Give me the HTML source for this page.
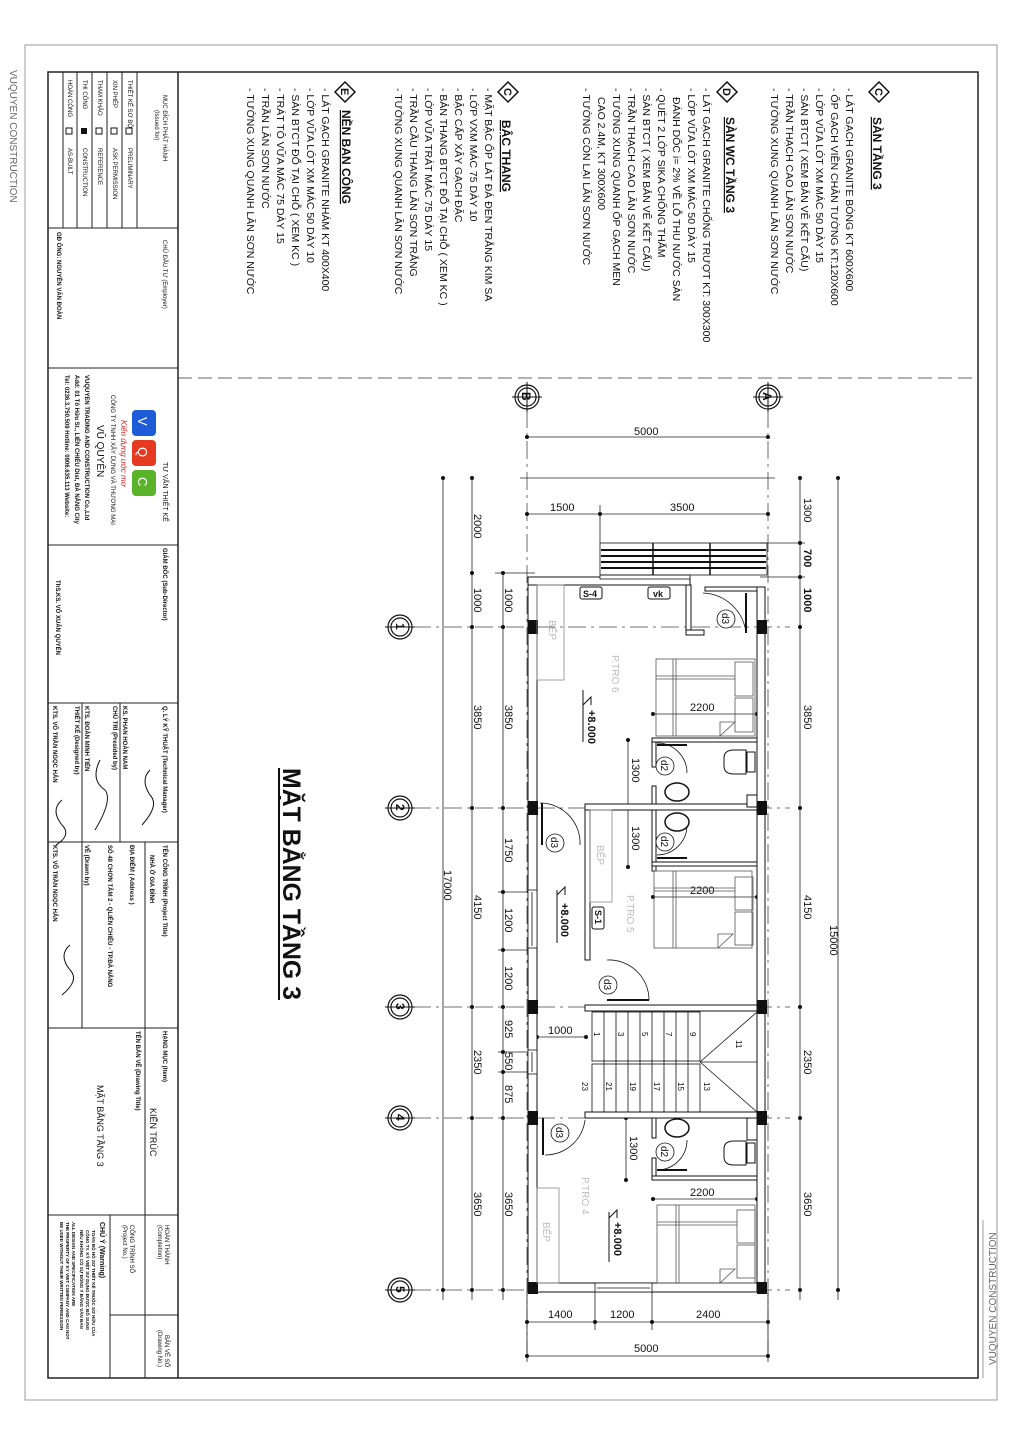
<!DOCTYPE html>
<html><head><meta charset="utf-8"><style>
html,body{margin:0;padding:0;background:#fff}
svg{display:block}
text{font-family:"Liberation Sans","DejaVu Sans",sans-serif;fill:#111}
.n{font-size:10.5px}
.h{font-size:12px;font-weight:bold;text-decoration:underline}
.d{font-size:11px}
.g{fill:#bbb;font-size:10px}
.t{font-size:6px}
.tb{font-size:6px;font-weight:bold}
</style></head><body>
<svg width="1023" height="1448" viewBox="0 0 1023 1448" xmlns="http://www.w3.org/2000/svg">
<!-- page frames -->
<rect x="25" y="45" width="972" height="1355" fill="none" stroke="#999" stroke-width="1"/>
<rect x="48" y="72" width="930" height="1306" fill="none" stroke="#222" stroke-width="1.5"/>
<text transform="translate(10,70) rotate(90)" class="g" style="fill:#666;font-size:10px">VUQUYEN CONSTRUCTION</text>
<text transform="translate(996,1365) rotate(-90)" class="g" style="fill:#666;font-size:10px">VUQUYEN CONSTRUCTION</text>
<line x1="983" y1="1220" x2="983" y2="1378" stroke="#999"/>

<!-- title block -->
<g stroke="#222" stroke-width="1" fill="none">
<line x1="178" y1="72" x2="178" y2="1378" stroke-width="1.5"/>
<line x1="48" y1="228" x2="178" y2="228"/>
<line x1="48" y1="368" x2="178" y2="368"/>
<line x1="48" y1="545" x2="178" y2="545"/>
<line x1="48" y1="703" x2="178" y2="703"/>
<line x1="48" y1="842" x2="178" y2="842"/>
<line x1="48" y1="1028" x2="178" y2="1028"/>
<line x1="48" y1="1215" x2="178" y2="1215"/>
<line x1="137" y1="72" x2="137" y2="228"/>
<line x1="122" y1="72" x2="122" y2="228"/>
<line x1="107" y1="72" x2="107" y2="228"/>
<line x1="92" y1="72" x2="92" y2="228"/>
<line x1="77" y1="72" x2="77" y2="228"/>
<line x1="63" y1="72" x2="63" y2="228"/>
<line x1="120" y1="703" x2="120" y2="842"/>
<line x1="82" y1="703" x2="82" y2="1028"/>
<line x1="145" y1="842" x2="145" y2="1028"/>
<line x1="145" y1="1028" x2="145" y2="1215"/>
<line x1="145" y1="1215" x2="145" y2="1378"/>
<line x1="110" y1="1215" x2="110" y2="1378"/>
<line x1="110" y1="1315" x2="178" y2="1315"/>
</g>
<g>
<text transform="translate(163,95) rotate(90)" class="t">MỤC ĐÍCH PHÁT HÀNH</text>
<text transform="translate(155,110) rotate(90)" class="t">(Issued for)</text>
<text transform="translate(128,80) rotate(90)" class="t">THIẾT KẾ SƠ BỘ</text>
<text transform="translate(113,80) rotate(90)" class="t">XIN PHÉP</text>
<text transform="translate(98,80) rotate(90)" class="t">THAM KHẢO</text>
<text transform="translate(83,80) rotate(90)" class="t">THI CÔNG</text>
<text transform="translate(68,80) rotate(90)" class="t">HOÀN CÔNG</text>
<rect x="126" y="128" width="6" height="6" fill="none" stroke="#111"/>
<rect x="111" y="128" width="6" height="6" fill="none" stroke="#111"/>
<rect x="96" y="128" width="6" height="6" fill="none" stroke="#111"/>
<rect x="81" y="128" width="6" height="6" fill="#111"/>
<rect x="66" y="128" width="6" height="6" fill="none" stroke="#111"/>
<text transform="translate(128,148) rotate(90)" class="t">PRELIMINARY</text>
<text transform="translate(113,148) rotate(90)" class="t">ASK PERMISSION</text>
<text transform="translate(98,148) rotate(90)" class="t">REFERENCE</text>
<text transform="translate(83,148) rotate(90)" class="t">CONSTRUCTION</text>
<text transform="translate(68,148) rotate(90)" class="t">AS-BUILT</text>
<text transform="translate(163,240) rotate(90)" class="t">CHỦ ĐẦU TƯ (Employer)</text>
<text transform="translate(57,232) rotate(90)" class="tb">GĐ ÔNG: NGUYỄN VĂN ĐOÀN</text>
<text transform="translate(163,462) rotate(90)" class="t" style="font-size:7px">TƯ VẤN THIẾT KẾ</text>
<rect x="132" y="410" width="24" height="26" rx="4" fill="#1e5bd8"/>
<rect x="132" y="440" width="24" height="26" rx="4" fill="#e53a1f"/>
<rect x="132" y="470" width="24" height="26" rx="4" fill="#5bb32a"/>
<text transform="translate(138,417) rotate(90)" style="font-size:13px;fill:#fff">V</text>
<text transform="translate(138,447) rotate(90)" style="font-size:13px;fill:#fff">Q</text>
<text transform="translate(138,477) rotate(90)" style="font-size:13px;fill:#fff">C</text>
<text transform="translate(121,420) rotate(90)" style="font-size:8px;fill:#d22;font-style:italic">Kiến dựng ước mơ</text>
<text transform="translate(111,395) rotate(90)" class="t">CÔNG TY TNHH XÂY DỰNG VÀ THƯƠNG MẠI</text>
<text transform="translate(97,425) rotate(90)" style="font-size:10px">VŨ QUYÊN</text>
<text transform="translate(85,375) rotate(90)" class="tb">VUQUYEN TRADING AND CONSTRUCTION Co.,Ltd</text>
<text transform="translate(75,375) rotate(90)" class="tb">Add: 01 Tô Hữu St., LIÊN CHIỂU Dist, ĐÀ NẴNG City</text>
<text transform="translate(65,375) rotate(90)" class="tb">Tel: 0236.3.750.509 Hotline: 0906.635.113 Website:</text>
<text transform="translate(163,548) rotate(90)" class="tb">GIÁM ĐỐC (Sub-Director)</text>
<text transform="translate(56,580) rotate(90)" class="tb">ThS.KS. VÕ XUÂN QUYẾN</text>
<text transform="translate(163,706) rotate(90)" class="tb">Q. LÝ KỸ THUẬT (Technical Manager)</text>
<text transform="translate(123,706) rotate(90)" class="tb">KS. PHAN HOÀN NAM</text>
<text transform="translate(113,706) rotate(90)" class="tb">CHỦ TRÌ (Presided by)</text>
<text transform="translate(85,706) rotate(90)" class="tb">KTS. ĐOÀN MINH TIẾN</text>
<text transform="translate(75,706) rotate(90)" class="tb">THIẾT KẾ (Designed by)</text>
<text transform="translate(53,706) rotate(90)" class="tb">KTS. VÕ TRẦN NGỌC HÂN</text>
<path d="M150 770 q-10 10 0 25 q10 10 -8 30 M100 760 q-10 20 5 30 q8 10 -10 40 M62 800 q-12 10 0 25 q10 10 -6 20" fill="none" stroke="#111" stroke-width="1"/>
<text transform="translate(163,845) rotate(90)" class="tb">TÊN CÔNG TRÌNH (Project Title)</text>
<text transform="translate(150,855) rotate(90)" class="tb">NHÀ Ở GIA ĐÌNH</text>
<text transform="translate(130,845) rotate(90)" class="tb">ĐỊA ĐIỂM ( Address )</text>
<text transform="translate(108,845) rotate(90)" class="tb">SỐ 48 CHƠN TÂM 2 - QLIÊN CHIỂU - TP.ĐÀ NẴNG</text>
<text transform="translate(85,845) rotate(90)" class="tb">VẼ (Drawn by)</text>
<text transform="translate(53,845) rotate(90)" class="tb">KTS. VÕ TRẦN NGỌC HÂN</text>
<path d="M70 945 q-12 10 0 25 q10 10 -8 25" fill="none" stroke="#111"/>
<text transform="translate(163,1031) rotate(90)" class="tb">HẠNG MỤC (Item)</text>
<text transform="translate(150,1108) rotate(90)" style="font-size:9px">KIẾN TRÚC</text>
<text transform="translate(136,1031) rotate(90)" class="tb">TÊN BẢN VẼ (Drawing Title)</text>
<text transform="translate(97,1085) rotate(90)" style="font-size:9px">MẶT BẰNG TẦNG 3</text>
<text transform="translate(165,1225) rotate(90)" class="t">HOÀN THÀNH</text>
<text transform="translate(158,1225) rotate(90)" class="t">(Completion)</text>
<text transform="translate(130,1225) rotate(90)" class="t">CÔNG TRÌNH SỐ</text>
<text transform="translate(123,1225) rotate(90)" class="t">(Project No.)</text>
<text transform="translate(165,1335) rotate(90)" class="t">BẢN VẼ SỐ</text>
<text transform="translate(158,1330) rotate(90)" class="t">(Drawing No.)</text>
<text transform="translate(100,1222) rotate(90)" class="tb" style="font-size:7px">CHÚ Ý (Warning)</text>
<text transform="translate(92,1230) rotate(90)" class="tb" style="font-size:4.5px">TOÀN BỘ HỒ SƠ THIẾT KẾ THUỘC SỞ HỮU CỦA</text>
<text transform="translate(86,1230) rotate(90)" class="tb" style="font-size:4.5px">CÔNG TY. KỸ VIỆT SỬ DỤNG ĐƯỢC BỔ SUNG</text>
<text transform="translate(80,1230) rotate(90)" class="tb" style="font-size:4.5px">NẾU KHÔNG CÓ SỰ ĐỒNG Ý BẰNG VĂN BẢN</text>
<text transform="translate(72,1222) rotate(90)" class="tb" style="font-size:4.5px">ALL DESIGN AND SPECIFICATION ARE</text>
<text transform="translate(66,1222) rotate(90)" class="tb" style="font-size:4.5px">THE PROPERTY OF KY VIET COMPANY AND CAN NOT</text>
<text transform="translate(60,1222) rotate(90)" class="tb" style="font-size:4.5px">BE USED WITHOUT THEIR WRITTEN PERMISSION</text>
</g>

<!-- dashed separator -->
<line x1="178" y1="378" x2="978" y2="378" stroke="#333" stroke-dasharray="14 6" stroke-width="0.8"/>

<!-- notes -->
<g>
<path d="M879 82 l10 10 -10 10 -10 -10z" fill="#fff" stroke="#111" stroke-width="1.5"/>
<text transform="translate(875,88) rotate(90)" style="font-size:11px;font-weight:bold">C</text>
<text transform="translate(873,117) rotate(90)" class="h">SÀN TẦNG 3</text>
<text transform="translate(846,88) rotate(90)" class="n">- LÁT GẠCH GRANITE BÓNG KT 600X600</text>
<text transform="translate(831,88) rotate(90)" class="n">- ỐP GẠCH VIỀN CHÂN TƯỜNG KT:120X600</text>
<text transform="translate(816,88) rotate(90)" class="n">- LỚP VỮA LÓT XM MÁC 50 DÀY 15</text>
<text transform="translate(801,88) rotate(90)" class="n">- SÀN BTCT ( XEM BẢN VẼ KẾT CẤU)</text>
<text transform="translate(786,88) rotate(90)" class="n">- TRẦN THẠCH CAO LĂN SƠN NƯỚC</text>
<text transform="translate(771,88) rotate(90)" class="n">- TƯỜNG XUNG QUANH LĂN SƠN NƯỚC</text>

<path d="M727 82 l10 10 -10 10 -10 -10z" fill="#fff" stroke="#111" stroke-width="1.5"/>
<text transform="translate(723,88) rotate(90)" style="font-size:11px;font-weight:bold">D</text>
<text transform="translate(726,117) rotate(90)" class="h">SÀN WC TẦNG 3</text>
<text transform="translate(703,88) rotate(90)" class="n">- LÁT GẠCH GRANITE CHỐNG TRƯỢT KT: 300X300</text>
<text transform="translate(688,88) rotate(90)" class="n">- LỚP VỮA LÓT XM MÁC 50 DÀY 15</text>
<text transform="translate(673,97) rotate(90)" class="n">ĐÁNH DỐC i= 2% VỀ LỖ THU NƯỚC SÀN</text>
<text transform="translate(658,88) rotate(90)" class="n">- QUÉT 2 LỚP SIKA CHỐNG THẤM</text>
<text transform="translate(643,88) rotate(90)" class="n">- SÀN BTCT ( XEM BẢN VẼ KẾT CẤU)</text>
<text transform="translate(628,88) rotate(90)" class="n">- TRẦN THẠCH CAO LĂN SƠN NƯỚC</text>
<text transform="translate(613,88) rotate(90)" class="n">- TƯỜNG XUNG QUANH ỐP GẠCH MEN</text>
<text transform="translate(598,97) rotate(90)" class="n">CAO 2.4M, KT 300X600</text>
<text transform="translate(583,88) rotate(90)" class="n">- TƯỜNG CÒN LẠI LĂN SƠN NƯỚC</text>

<path d="M508 82 l10 10 -10 10 -10 -10z" fill="#fff" stroke="#111" stroke-width="1.5"/>
<text transform="translate(504,88) rotate(90)" style="font-size:11px;font-weight:bold">C</text>
<text transform="translate(502,120) rotate(90)" class="h">BẬC THANG</text>
<text transform="translate(485,88) rotate(90)" class="n">- MẶT BẬC ỐP LÁT ĐÁ ĐEN TRẮNG KIM SA</text>
<text transform="translate(470,88) rotate(90)" class="n">- LỚP VXM MÁC 75 DÀY 10</text>
<text transform="translate(455,88) rotate(90)" class="n">- BẬC CẤP XÂY GẠCH ĐẶC</text>
<text transform="translate(440,88) rotate(90)" class="n">- BẢN THANG BTCT ĐỔ TẠI CHỖ ( XEM KC )</text>
<text transform="translate(425,88) rotate(90)" class="n">- LỚP VỮA TRÁT MÁC 75 DÀY 15</text>
<text transform="translate(410,88) rotate(90)" class="n">- TRẦN CẦU THANG LĂN SƠN TRẮNG</text>
<text transform="translate(395,88) rotate(90)" class="n">- TƯỜNG XUNG QUANH LĂN SƠN NƯỚC</text>

<path d="M345 82 l10 10 -10 10 -10 -10z" fill="#fff" stroke="#111" stroke-width="1.5"/>
<text transform="translate(341,88) rotate(90)" style="font-size:11px;font-weight:bold">E</text>
<text transform="translate(342,110) rotate(90)" class="h">NỀN BAN CÔNG</text>
<text transform="translate(322,88) rotate(90)" class="n">- LÁT GẠCH GRANITE NHÁM KT 400X400</text>
<text transform="translate(307,88) rotate(90)" class="n">- LỚP VỮA LÓT XM  MÁC 50 DÀY 10</text>
<text transform="translate(292,88) rotate(90)" class="n">- SÀN BTCT ĐỔ TẠI CHỖ ( XEM KC )</text>
<text transform="translate(277,88) rotate(90)" class="n">- TRÁT TÔ VỮA  MÁC 75 DÀY 15</text>
<text transform="translate(262,88) rotate(90)" class="n">- TRẦN  LĂN SƠN NƯỚC</text>
<text transform="translate(247,88) rotate(90)" class="n">- TƯỜNG XUNG QUANH LĂN SƠN NƯỚC</text>
</g>

<!-- big title -->
<text transform="translate(283,768) rotate(90)" style="font-size:25px;font-weight:bold;font-family:'Liberation Sans Narrow','Liberation Sans',sans-serif" textLength="232" lengthAdjust="spacingAndGlyphs">MẶT BẰNG TẦNG 3</text>
<line x1="279" y1="768" x2="279" y2="1000" stroke="#111" stroke-width="2"/>

<!-- grid lines -->
<g stroke="#444" stroke-width="0.8" stroke-dasharray="18 5 3 5" fill="none">
<line x1="768" y1="410" x2="768" y2="1360"/>
<line x1="527" y1="410" x2="527" y2="1360"/>
<line x1="413" y1="627" x2="790" y2="627"/>
<line x1="413" y1="808" x2="790" y2="808"/>
<line x1="413" y1="1007" x2="790" y2="1007"/>
<line x1="413" y1="1118" x2="790" y2="1118"/>
<line x1="413" y1="1290" x2="790" y2="1290"/>
</g>
<g fill="#fff" stroke="#111" stroke-width="1.2">
<circle cx="768" cy="397" r="12"/><circle cx="768" cy="397" r="9"/>
<circle cx="527" cy="397" r="12"/><circle cx="527" cy="397" r="9"/>
<circle cx="400" cy="627" r="12"/><circle cx="400" cy="627" r="9"/>
<circle cx="400" cy="808" r="12"/><circle cx="400" cy="808" r="9"/>
<circle cx="400" cy="1007" r="12"/><circle cx="400" cy="1007" r="9"/>
<circle cx="400" cy="1118" r="12"/><circle cx="400" cy="1118" r="9"/>
<circle cx="400" cy="1290" r="12"/><circle cx="400" cy="1290" r="9"/>
</g>
<g stroke="#111" stroke-width="1">
<line x1="768" y1="382" x2="768" y2="412"/><line x1="753" y1="397" x2="783" y2="397"/>
<line x1="527" y1="382" x2="527" y2="412"/><line x1="512" y1="397" x2="542" y2="397"/>
<line x1="385" y1="627" x2="415" y2="627"/><line x1="385" y1="808" x2="415" y2="808"/><line x1="385" y1="1007" x2="415" y2="1007"/><line x1="385" y1="1118" x2="415" y2="1118"/><line x1="385" y1="1290" x2="415" y2="1290"/>
</g>
<g style="font-size:12px;font-weight:bold">
<text transform="translate(763,392) rotate(90)">A</text>
<text transform="translate(522,392) rotate(90)">B</text>
<text transform="translate(396,623) rotate(90)">1</text>
<text transform="translate(396,804) rotate(90)">2</text>
<text transform="translate(396,1003) rotate(90)">3</text>
<text transform="translate(396,1114) rotate(90)">4</text>
<text transform="translate(396,1286) rotate(90)">5</text>
</g>

<!-- dimensions -->
<g stroke="#222" stroke-width="0.8" fill="none">
<line x1="527" y1="437" x2="768" y2="437"/>
<line x1="520" y1="478" x2="775" y2="478"/>
<line x1="527" y1="514" x2="768" y2="514"/><line x1="600" y1="505" x2="600" y2="543"/>
<line x1="800" y1="478" x2="800" y2="1300"/>
<line x1="838" y1="478" x2="838" y2="1300"/>
<line x1="503" y1="573" x2="503" y2="1300"/>
<line x1="472" y1="478" x2="472" y2="1300"/>
<line x1="443" y1="478" x2="443" y2="1300"/>
<line x1="527" y1="1322" x2="768" y2="1322"/>
<line x1="527" y1="1356" x2="768" y2="1356"/>
<line x1="595" y1="1292" x2="595" y2="1330"/><line x1="652" y1="1292" x2="652" y2="1330"/>
<line x1="768" y1="1292" x2="768" y2="1362"/><line x1="527" y1="1292" x2="527" y2="1362"/>
<line x1="760" y1="543" x2="805" y2="543"/><line x1="760" y1="577" x2="805" y2="577"/>
<line x1="495" y1="573" x2="535" y2="573"/>
<line x1="498" y1="892" x2="530" y2="892"/><line x1="498" y1="950" x2="530" y2="950"/>
<line x1="498" y1="1052" x2="530" y2="1052"/><line x1="498" y1="1072" x2="530" y2="1072"/>
<!-- interior -->
<line x1="653" y1="714" x2="757" y2="714"/>
<line x1="653" y1="897" x2="757" y2="897"/>
<line x1="653" y1="1199" x2="757" y2="1199"/>
<line x1="628" y1="740" x2="628" y2="867"/>
<line x1="626" y1="1113" x2="626" y2="1180"/>
<line x1="537" y1="1037" x2="586" y2="1037"/>
</g>
<g fill="#111">
<circle cx="527" cy="437" r="2"/><circle cx="768" cy="437" r="2"/>
<circle cx="527" cy="514" r="2"/><circle cx="600" cy="514" r="2"/><circle cx="768" cy="514" r="2"/>
<circle cx="800" cy="478" r="2"/><circle cx="800" cy="543" r="2"/><circle cx="800" cy="577" r="2"/><circle cx="800" cy="627" r="2"/><circle cx="800" cy="808" r="2"/><circle cx="800" cy="1007" r="2"/><circle cx="800" cy="1118" r="2"/><circle cx="800" cy="1290" r="2"/>
<circle cx="838" cy="478" r="2"/><circle cx="838" cy="1290" r="2"/>
<circle cx="443" cy="478" r="2"/><circle cx="443" cy="1290" r="2"/>
<circle cx="472" cy="478" r="2"/><circle cx="472" cy="573" r="2"/><circle cx="472" cy="627" r="2"/><circle cx="472" cy="808" r="2"/><circle cx="472" cy="1007" r="2"/><circle cx="472" cy="1118" r="2"/><circle cx="472" cy="1290" r="2"/>
<circle cx="503" cy="573" r="2"/><circle cx="503" cy="627" r="2"/><circle cx="503" cy="808" r="2"/><circle cx="503" cy="892" r="2"/><circle cx="503" cy="950" r="2"/><circle cx="503" cy="1007" r="2"/><circle cx="503" cy="1052" r="2"/><circle cx="503" cy="1072" r="2"/><circle cx="503" cy="1118" r="2"/><circle cx="503" cy="1290" r="2"/>
<circle cx="527" cy="1322" r="2"/><circle cx="595" cy="1322" r="2"/><circle cx="652" cy="1322" r="2"/><circle cx="768" cy="1322" r="2"/>
<circle cx="527" cy="1356" r="2"/><circle cx="768" cy="1356" r="2"/>
<circle cx="653" cy="714" r="2"/><circle cx="757" cy="714" r="2"/><circle cx="653" cy="897" r="2"/><circle cx="757" cy="897" r="2"/><circle cx="653" cy="1199" r="2"/><circle cx="757" cy="1199" r="2"/>
<circle cx="628" cy="740" r="2"/><circle cx="628" cy="808" r="2"/><circle cx="628" cy="867" r="2"/><circle cx="626" cy="1118" r="2"/><circle cx="626" cy="1180" r="2"/>
<circle cx="537" cy="1037" r="2"/><circle cx="586" cy="1037" r="2"/>
</g>
<g class="d">
<text x="634" y="435" class="d">5000</text>
<text x="550" y="511" class="d">1500</text>
<text x="670" y="511" class="d">3500</text>
<text x="548" y="1318" class="d">1400</text>
<text x="610" y="1318" class="d">1200</text>
<text x="696" y="1318" class="d">2400</text>
<text x="634" y="1352" class="d">5000</text>
<text x="690" y="711" class="d">2200</text>
<text x="690" y="894" class="d">2200</text>
<text x="690" y="1196" class="d">2200</text>
<text x="548" y="1034" class="d">1000</text>
</g>
<g class="d">
<text transform="translate(804,498) rotate(90)">1300</text>
<text transform="translate(804,549) rotate(90)" style="font-weight:bold">700</text>
<text transform="translate(804,588) rotate(90)" style="font-weight:bold">1000</text>
<text transform="translate(804,705) rotate(90)">3850</text>
<text transform="translate(804,895) rotate(90)">4150</text>
<text transform="translate(804,1050) rotate(90)">2350</text>
<text transform="translate(804,1192) rotate(90)">3650</text>
<text transform="translate(830,925) rotate(90)">15000</text>
<text transform="translate(444,870) rotate(90)">17000</text>
<text transform="translate(474,514) rotate(90)">2000</text>
<text transform="translate(474,588) rotate(90)">1000</text>
<text transform="translate(474,705) rotate(90)">3850</text>
<text transform="translate(474,895) rotate(90)">4150</text>
<text transform="translate(474,1050) rotate(90)">2350</text>
<text transform="translate(474,1192) rotate(90)">3650</text>
<text transform="translate(505,588) rotate(90)">1000</text>
<text transform="translate(505,705) rotate(90)">3850</text>
<text transform="translate(505,838) rotate(90)">1750</text>
<text transform="translate(505,908) rotate(90)">1200</text>
<text transform="translate(505,966) rotate(90)">1200</text>
<text transform="translate(505,1020) rotate(90)">925</text>
<text transform="translate(505,1052) rotate(90)">550</text>
<text transform="translate(505,1085) rotate(90)">875</text>
<text transform="translate(505,1192) rotate(90)">3650</text>
<text transform="translate(632,758) rotate(90)">1300</text>
<text transform="translate(632,826) rotate(90)">1300</text>
<text transform="translate(630,1136) rotate(90)">1300</text>
</g>

<!-- building walls -->
<g fill="#fff" stroke="#111" stroke-width="1">
<rect x="528" y="577" width="9" height="715"/>
<rect x="757" y="587" width="8" height="705"/>
<rect x="528" y="577" width="162" height="8"/>
<rect x="686" y="585" width="5" height="50"/>
<rect x="686" y="630" width="18" height="5"/>
<rect x="705" y="587" width="52" height="4"/>
<rect x="537" y="1283" width="220" height="9"/>
<rect x="652" y="738" width="105" height="4"/>
<rect x="652" y="742" width="4" height="25"/>
<rect x="652" y="786" width="4" height="85"/>
<rect x="585" y="804" width="172" height="6"/>
<rect x="585" y="810" width="5" height="150"/>
<rect x="652" y="862" width="105" height="4"/>
<rect x="585" y="1005" width="172" height="6"/>
<rect x="585" y="1112" width="172" height="6"/>
<rect x="652" y="1118" width="4" height="20"/>
<rect x="652" y="1158" width="4" height="22"/>
<rect x="652" y="1176" width="105" height="4"/>
<rect x="747" y="1118" width="10" height="22"/>
<rect x="747" y="795" width="10" height="12"/>
</g>
<!-- windows -->
<g stroke="#111" stroke-width="0.8" fill="#fff">
<rect x="528" y="890" width="9" height="58"/><line x1="532" y1="892" x2="532" y2="946"/>
<rect x="528" y="1050" width="9" height="24"/><line x1="532" y1="1052" x2="532" y2="1072"/>
<rect x="595" y="1283" width="57" height="9"/><line x1="597" y1="1288" x2="650" y2="1288"/>
<rect x="600" y="575" width="90" height="4"/>
</g>
<!-- columns -->
<g fill="#111">
<rect x="528" y="620" width="10" height="14"/><rect x="757" y="620" width="10" height="14"/>
<rect x="528" y="801" width="10" height="14"/><rect x="757" y="801" width="10" height="14"/>
<rect x="528" y="1000" width="10" height="14"/><rect x="757" y="1000" width="10" height="14"/>
<rect x="528" y="1111" width="10" height="14"/><rect x="757" y="1111" width="10" height="14"/>
<rect x="528" y="1282" width="10" height="12"/><rect x="757" y="1282" width="10" height="12"/>
</g>
<!-- balcony railing -->
<g stroke="#111" fill="none">
<rect x="600" y="543" width="167" height="32" stroke-width="0.8"/>
<line x1="601" y1="550" x2="766" y2="550" stroke-width="2"/>
<line x1="601" y1="556" x2="766" y2="556" stroke-width="2"/>
<line x1="601" y1="562" x2="766" y2="562" stroke-width="2"/>
<line x1="601" y1="568" x2="766" y2="568" stroke-width="2"/>
<line x1="653" y1="543" x2="653" y2="575" stroke-width="1.5"/>
<line x1="710" y1="543" x2="710" y2="575" stroke-width="1.5"/>
</g>
<!-- labels S-4, vk, S-1 -->
<g>
<rect x="580" y="587" width="22" height="12" rx="2" fill="#fff" stroke="#111"/><text x="583" y="597" style="font-size:9px;font-weight:bold">S-4</text>
<rect x="648" y="587" width="22" height="12" rx="2" fill="#fff" stroke="#111"/><text x="653" y="597" style="font-size:9px;font-weight:bold">vk</text>
<rect x="592" y="907" width="12" height="22" rx="2" fill="#fff" stroke="#111"/><text transform="translate(595,910) rotate(90)" style="font-size:9px;font-weight:bold">S-1</text>
</g>
<!-- kitchens -->
<g fill="none" stroke="#888" stroke-width="0.8">
<rect x="537" y="585" width="27" height="95"/>
<rect x="590" y="810" width="22" height="92"/>
<rect x="537" y="1188" width="22" height="95"/>
</g>
<text transform="translate(549,620) rotate(90)" class="g">BẾP</text>
<text transform="translate(597,845) rotate(90)" class="g">BẾP</text>
<text transform="translate(543,1222) rotate(90)" class="g">BẾP</text>
<text transform="translate(612,655) rotate(90)" class="g" style="font-size:10px">P.TRO 6</text>
<text transform="translate(627,895) rotate(90)" class="g" style="font-size:10px">P.TRO 5</text>
<text transform="translate(582,1177) rotate(90)" class="g" style="font-size:10px">P.TRO 4</text>
<!-- beds -->
<g fill="none" stroke="#555" stroke-width="0.8">
<rect x="656" y="659" width="99" height="77"/><line x1="673" y1="659" x2="673" y2="736"/><line x1="676" y1="659" x2="676" y2="736"/><line x1="656" y1="676" x2="735" y2="676"/><line x1="656" y1="679" x2="735" y2="679"/><rect x="735" y="662" width="18" height="34"/><rect x="735" y="698" width="18" height="34"/><path d="M720 736 l0 -14 l15 0 z"/>
<rect x="654" y="871" width="98" height="77"/><line x1="673" y1="871" x2="673" y2="948"/><line x1="676" y1="871" x2="676" y2="948"/><line x1="654" y1="888" x2="735" y2="888"/><line x1="654" y1="891" x2="735" y2="891"/><rect x="735" y="877" width="18" height="33"/><rect x="735" y="912" width="18" height="33"/><path d="M718 948 l0 -14 l15 0 z"/>
<rect x="657" y="1205" width="98" height="78"/><line x1="676" y1="1205" x2="676" y2="1283"/><line x1="679" y1="1205" x2="679" y2="1283"/><line x1="657" y1="1222" x2="737" y2="1222"/><line x1="657" y1="1225" x2="737" y2="1225"/><rect x="737" y="1210" width="18" height="33"/><rect x="737" y="1245" width="18" height="33"/><path d="M720 1283 l0 -14 l15 0 z"/>
</g>
<!-- stairs -->
<g fill="none" stroke="#111" stroke-width="0.8">
<rect x="592" y="1012" width="108" height="49"/>
<rect x="592" y="1064" width="108" height="48"/>
<line x1="604" y1="1012" x2="604" y2="1112"/><line x1="616" y1="1012" x2="616" y2="1112"/><line x1="628" y1="1012" x2="628" y2="1112"/><line x1="640" y1="1012" x2="640" y2="1112"/><line x1="652" y1="1012" x2="652" y2="1112"/><line x1="664" y1="1012" x2="664" y2="1112"/><line x1="676" y1="1012" x2="676" y2="1112"/><line x1="688" y1="1012" x2="688" y2="1112"/>
<line x1="700" y1="1062" x2="757" y2="1012"/><line x1="700" y1="1062" x2="757" y2="1112"/><line x1="700" y1="1062" x2="757" y2="1062"/>
</g>
<g class="g" style="font-size:8px">
<text transform="translate(594,1032) rotate(90)">1</text><text transform="translate(618,1032) rotate(90)">3</text><text transform="translate(642,1032) rotate(90)">5</text><text transform="translate(666,1032) rotate(90)">7</text><text transform="translate(690,1032) rotate(90)">9</text><text transform="translate(736,1040) rotate(90)">11</text>
<text transform="translate(582,1082) rotate(90)">23</text><text transform="translate(606,1082) rotate(90)">21</text><text transform="translate(630,1082) rotate(90)">19</text><text transform="translate(654,1082) rotate(90)">17</text><text transform="translate(678,1082) rotate(90)">15</text><text transform="translate(704,1082) rotate(90)">13</text>
</g>
<!-- doors -->
<g fill="none" stroke="#111" stroke-width="0.8">
<path d="M746 633 A45 45 0 0 0 703 593"/><line x1="746" y1="593" x2="746" y2="633" stroke-width="2"/>
<path d="M540 803 A40 40 0 0 1 580 845"/><line x1="542" y1="803" x2="542" y2="845" stroke-width="2"/>
<path d="M657 743 A30 30 0 0 1 687 773"/><line x1="657" y1="745" x2="687" y2="745" stroke-width="2"/>
<path d="M657 855 A30 30 0 0 0 687 825"/><line x1="657" y1="858" x2="687" y2="858" stroke-width="2"/>
<path d="M607 960 A40 40 0 0 1 649 1000"/><line x1="607" y1="1000" x2="649" y2="1000" stroke-width="2"/>
<path d="M545 1155 A40 40 0 0 0 585 1120"/><line x1="543" y1="1118" x2="543" y2="1155" stroke-width="2"/>
<path d="M657 1170 A30 30 0 0 0 687 1140"/><line x1="657" y1="1170" x2="687" y2="1170" stroke-width="2"/>
</g>
<g fill="#fff" stroke="#111" stroke-width="0.8">
<circle cx="726" cy="619" r="9"/><circle cx="555" cy="843" r="9"/><circle cx="665" cy="766" r="9"/><circle cx="665" cy="842" r="9"/><circle cx="608" cy="985" r="9"/><circle cx="560" cy="1133" r="9"/><circle cx="665" cy="1152" r="9"/>
</g>
<g style="font-size:10px">
<text transform="translate(722,613) rotate(90)">d3</text><text transform="translate(551,837) rotate(90)">d3</text><text transform="translate(661,760) rotate(90)">d2</text><text transform="translate(661,836) rotate(90)">d2</text><text transform="translate(604,979) rotate(90)">d3</text><text transform="translate(556,1127) rotate(90)">d3</text><text transform="translate(661,1146) rotate(90)">d2</text>
</g>
<!-- fixtures -->
<g fill="#fff" stroke="#111" stroke-width="1">
<path d="M724 758 q0 -8 10 -8 l12 0 l0 24 l-12 0 q-10 0 -10 -8z"/><rect x="747" y="752" width="8" height="20"/>
<path d="M724 1149 q0 -8 10 -8 l12 0 l0 24 l-12 0 q-10 0 -10 -8z"/><rect x="747" y="1143" width="8" height="20"/>
<ellipse cx="677" cy="792" rx="12" ry="9" stroke-width="1.5"/>
<ellipse cx="677" cy="822" rx="12" ry="9" stroke-width="1.5"/>
<ellipse cx="677" cy="1128" rx="12" ry="9" stroke-width="1.5"/>
</g>
<!-- level markers -->
<g stroke="#111" fill="none">
<line x1="583" y1="690" x2="583" y2="742"/><path d="M583 705 l8 -8 l0 8"/>
<line x1="557" y1="890" x2="557" y2="943"/><path d="M557 895 l8 -8 l0 8"/>
<line x1="609" y1="1212" x2="609" y2="1262"/><path d="M609 1218 l8 -8 l0 8"/>
</g>
<g style="font-size:11px;font-weight:bold">
<text transform="translate(588,710) rotate(90)">+8.000</text>
<text transform="translate(561,903) rotate(90)">+8.000</text>
<text transform="translate(614,1222) rotate(90)">+8.000</text>
</g>
</svg>
</body></html>
